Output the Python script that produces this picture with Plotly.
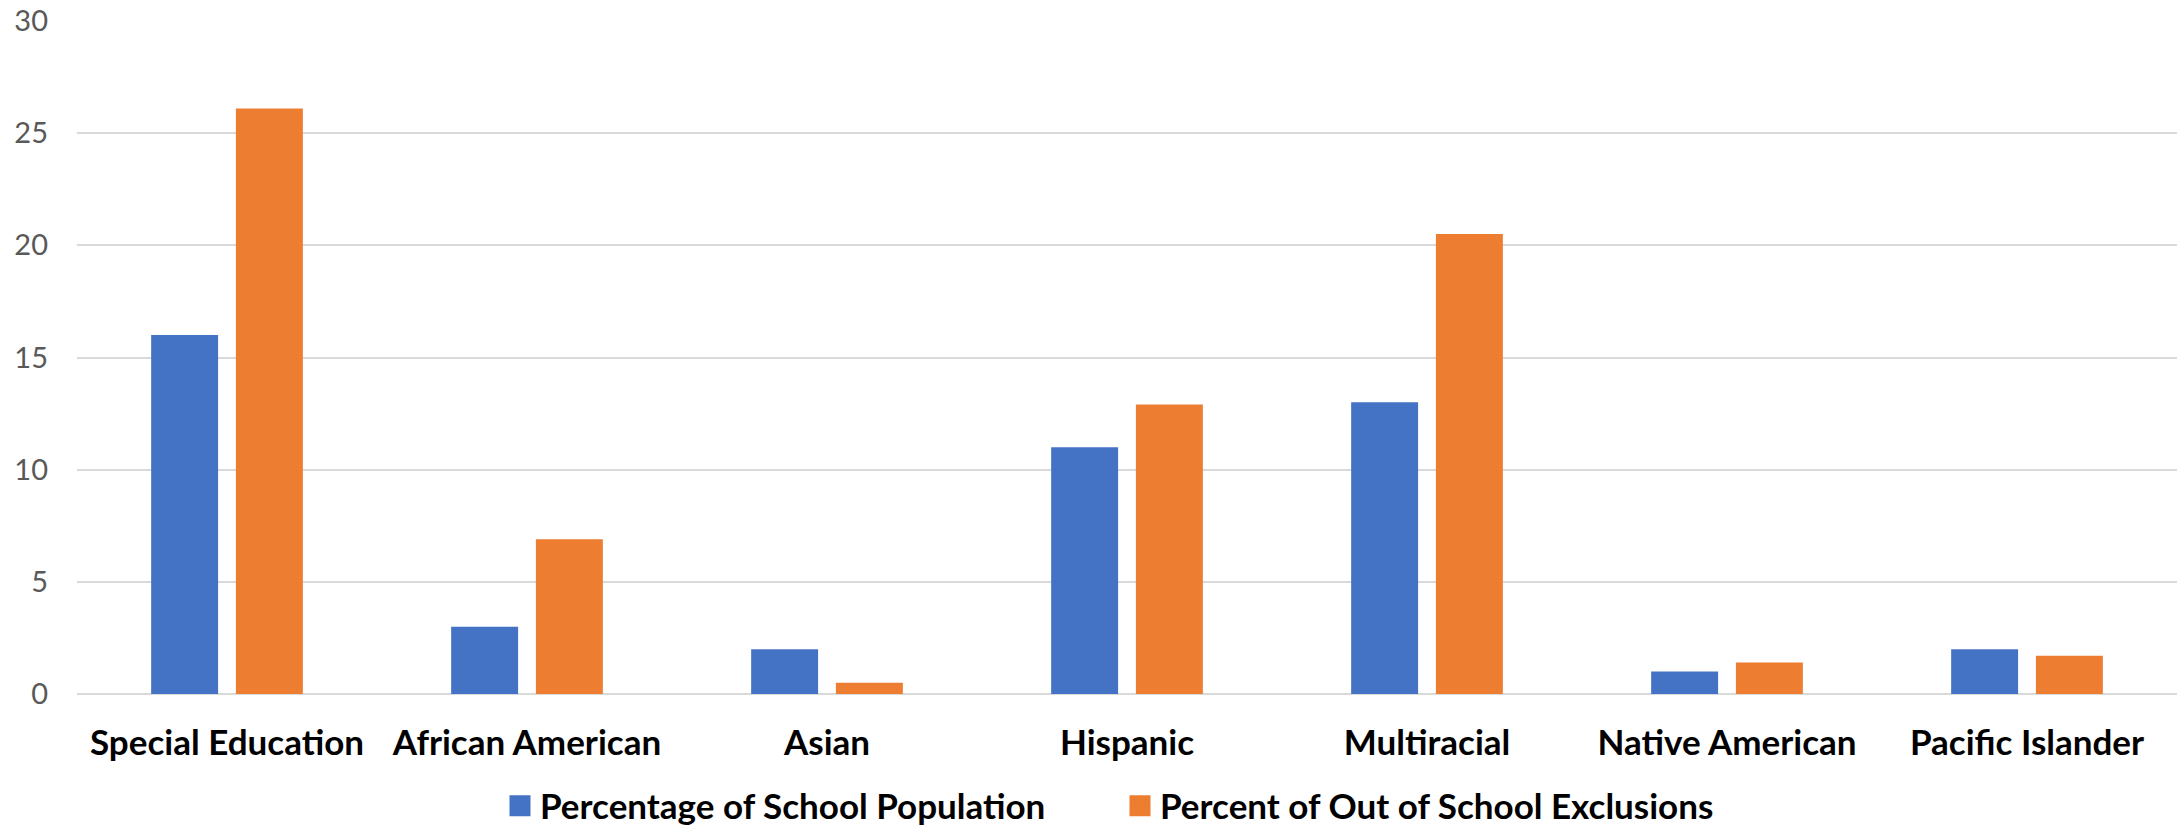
import plotly.graph_objects as go

categories = ["Special Education", "African American", "Asian", "Hispanic",
              "Multiracial", "Native American", "Pacific Islander"]
school_population = [16, 3, 2, 11, 13, 1, 2]
out_of_school_exclusions = [26.1, 6.9, 0.5, 12.9, 20.5, 1.4, 1.7]
series_names = ["Percentage of School Population", "Percent of Out of School Exclusions"]
y_ticks = [0, 5, 10, 15, 20, 25, 30]

BLUE = "#4472C4"
ORANGE = "#ED7D31"
FONT = "Lato"

fig = go.Figure()
fig.add_trace(go.Bar(x=categories, y=school_population, name=series_names[0],
                     marker=dict(color=BLUE, line=dict(width=0)), showlegend=False))
fig.add_trace(go.Bar(x=categories, y=out_of_school_exclusions, name=series_names[1],
                     marker=dict(color=ORANGE, line=dict(width=0)), showlegend=False))
# legend entries with larger square swatches
for name, col in zip(series_names, [BLUE, ORANGE]):
    fig.add_trace(go.Scatter(x=[None], y=[None], mode="markers", name=name,
                             marker=dict(symbol="square", size=16, color=col,
                                         line=dict(color=col, width=5)),
                             showlegend=True))

fig.update_layout(
    width=2178, height=828,
    margin=dict(l=77, r=1, t=21, b=134, pad=0, autoexpand=False),
    paper_bgcolor="white", plot_bgcolor="white",
    barmode="group", bargap=0.435, bargroupgap=0.21,
    font=dict(family=FONT, color="#000000"),
    legend=dict(orientation="h", xref="container", yref="container",
                x=500 / 2178, xanchor="left", y=1 - 806 / 828, yanchor="middle",
                font=dict(family=FONT, size=35, color="#000000", weight="bold"),
                itemsizing="trace", entrywidth=575, entrywidthmode="pixels",
                bgcolor="rgba(0,0,0,0)", borderwidth=0),
    xaxis=dict(showgrid=False, showline=False, zeroline=False, ticks="", automargin=False,
               tickfont=dict(family=FONT, size=35, color="#000000", weight="bold"),
               ticklabelstandoff=25, fixedrange=True),
    yaxis=dict(range=[0, 30], tickvals=y_ticks, showgrid=True, gridcolor="#D9D9D9",
               gridwidth=2, zeroline=True, zerolinecolor="#D9D9D9", zerolinewidth=2,
               showline=False, ticks="", automargin=False,
               tickfont=dict(family=FONT, size=29, color="#595959"),
               ticklabelstandoff=28, fixedrange=True),
)

fig.write_html("out.html")
